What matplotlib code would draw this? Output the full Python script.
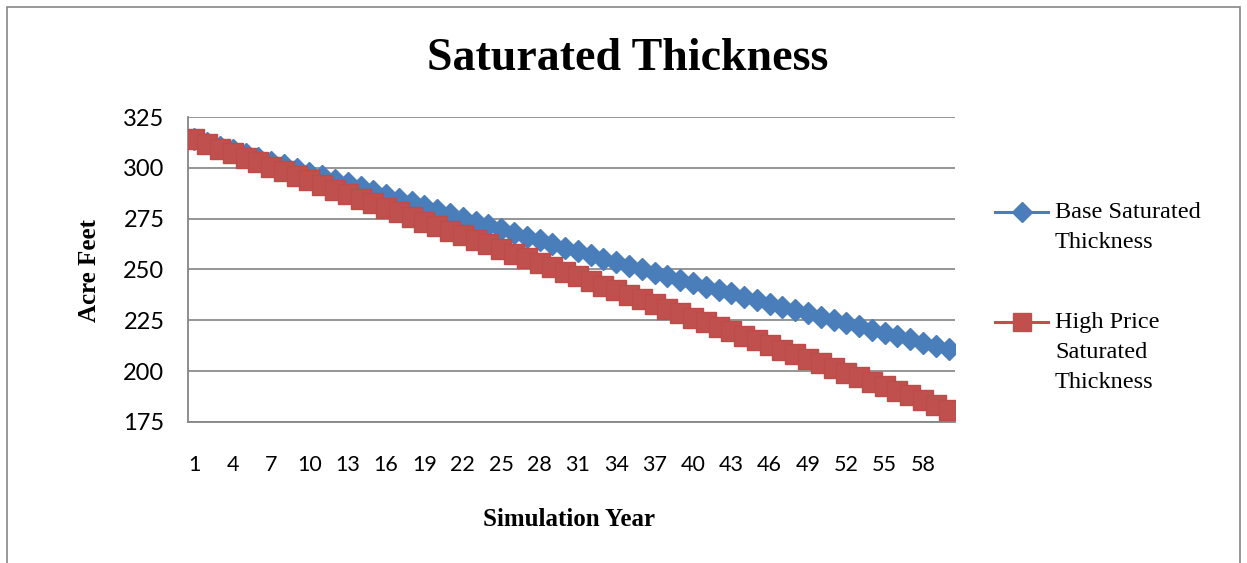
import matplotlib
matplotlib.use("Agg")
import matplotlib.pyplot as plt
from matplotlib.lines import Line2D
from matplotlib.patches import Rectangle

years = list(range(1, 61))
base = [314.0, 312.2, 310.4, 308.6, 306.8, 305.0, 303.1, 301.3, 299.5, 297.7,
        295.9, 294.1, 292.3, 290.5, 288.6, 286.8, 284.9, 283.0, 281.1, 279.2,
        277.3, 275.5, 273.6, 271.7, 269.8, 268.0, 266.1, 264.3, 262.5, 260.7,
        258.9, 257.1, 255.3, 253.6, 251.9, 250.1, 248.4, 246.7, 245.0, 243.3,
        241.6, 239.9, 238.2, 236.5, 234.8, 233.2, 231.6, 230.0, 228.4, 226.8,
        225.2, 223.6, 222.0, 220.4, 218.8, 217.2, 215.6, 214.0, 212.4, 210.8]
high = [314.0, 311.8, 309.5, 307.3, 305.0, 302.8, 300.5, 298.3, 296.0, 293.8,
        291.5, 289.3, 287.0, 284.8, 282.6, 280.3, 278.1, 275.8, 273.6, 271.3,
        269.1, 266.8, 264.6, 262.3, 260.1, 257.8, 255.6, 253.3, 251.1, 248.8,
        246.6, 244.3, 242.1, 239.8, 237.6, 235.3, 233.1, 230.8, 228.6, 226.3,
        224.1, 221.8, 219.6, 217.3, 215.1, 212.8, 210.6, 208.3, 206.1, 203.8,
        201.6, 199.3, 197.1, 194.8, 192.6, 190.3, 188.1, 185.8, 183.4, 181.0]
xtick_years = list(range(1, 61, 3))
yticks = [175, 200, 225, 250, 275, 300, 325]
label_base = "Base Saturated\nThickness"
label_high = "High Price\nSaturated\nThickness"

W, H = 1247, 563
fig = plt.figure(figsize=(W / 100, H / 100), dpi=100)

def fx(px):
    return px / W

def fy(py):
    return 1 - py / H

# outer border
fig.add_artist(Rectangle((fx(7), fy(600)), fx(1240) - fx(7), fy(7) - fy(600),
                         transform=fig.transFigure, fill=False,
                         edgecolor="#868686", linewidth=1.2))

ax = fig.add_axes([fx(188), fy(422), fx(955) - fx(188), fy(117) - fy(422)])

blue = "#4A7EBB"
red = "#C0504D"
ax.plot(years, base, color=blue, linewidth=2.2, marker="D", markersize=11,
        markerfacecolor=blue, markeredgecolor=blue, zorder=3)
ax.plot(years, high, color=red, linewidth=2.2, marker="s", markersize=14,
        markerfacecolor=red, markeredgecolor="#BE4B48", zorder=4)

ax.set_xlim(0.5, 60.5)
ax.set_ylim(175, 325)
ax.set_yticks(yticks)
ax.set_xticks(xtick_years)
ax.set_xticklabels([str(v) for v in xtick_years])
ax.yaxis.grid(True, color="#8C8C8C", linewidth=1.3)
ax.set_axisbelow(True)
for s in ["top", "right"]:
    ax.spines[s].set_visible(False)
for s in ["left", "bottom"]:
    ax.spines[s].set_color("#868686")
    ax.spines[s].set_linewidth(1.3)
ax.tick_params(axis="y", length=0, pad=17, labelsize=17)
ax.tick_params(axis="x", length=0, pad=24, labelsize=15.5)
for lab in ax.get_yticklabels():
    lab.set_fontfamily("Lato")
for lab in ax.get_xticklabels():
    lab.set_fontfamily("Lato")

serif = ["Liberation Serif", "DejaVu Serif"]
fig.text(fx(628), fy(59), "Saturated Thickness", ha="center", va="center",
         fontsize=33, fontweight="bold", family=serif)
fig.text(fx(569), fy(520), "Simulation Year", ha="center", va="center",
         fontsize=18, fontweight="bold", family=serif)
fig.text(fx(90), fy(270), "Acre Feet", ha="center", va="center", rotation=90,
         fontsize=18, fontweight="bold", family=serif)

# legend
def legend_entry(y_px, color, marker, ms, text):
    fig.add_artist(Line2D([fx(995), fx(1048)], [fy(y_px), fy(y_px)],
                          transform=fig.transFigure, color=color, linewidth=2.2))
    fig.add_artist(Line2D([fx(1021.5)], [fy(y_px)], transform=fig.transFigure,
                          color=color, marker=marker, markersize=ms,
                          markerfacecolor=color, markeredgecolor=color))
    fig.text(fx(1055), fy(y_px - 10), text, ha="left", va="top", fontsize=17.5,
             family=serif, linespacing=1.55)

legend_entry(212, blue, "D", 10, label_base)
legend_entry(322, red, "s", 13, label_high)

fig.savefig("out.png", dpi=100)
